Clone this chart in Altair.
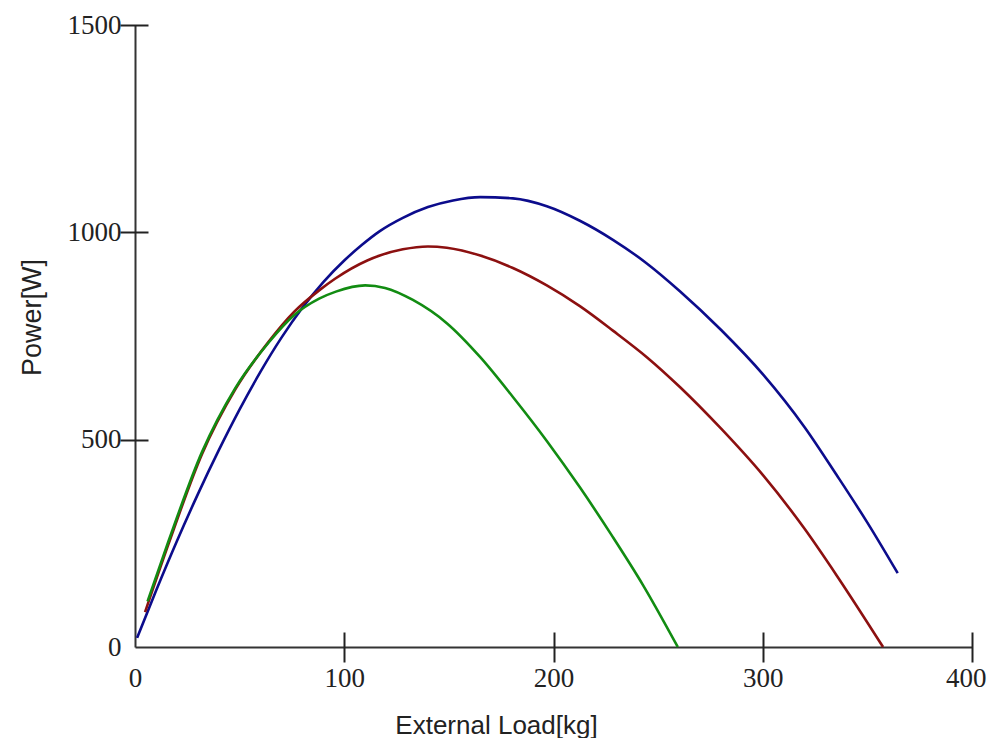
import altair as alt
import pandas as pd

# Series (External Load [kg] -> Power [W])
blue_x = [1, 10, 20, 30, 40, 50, 60, 70, 80, 90, 100, 108.5, 117, 128, 140, 152, 165, 180.6, 196.8, 212.6, 228.4, 244.6, 260.4, 280, 300, 320, 335.4, 350, 364.5]
blue_y = [22, 135, 255, 368, 474, 573, 664, 746, 818, 880, 932, 970, 1003, 1035, 1061, 1077, 1085, 1082, 1063, 1028, 982, 925, 858, 765, 658, 530, 414, 300, 178]

red_x = [4.8, 16, 32, 48, 64, 76, 88, 95.6, 111, 117, 128, 140, 149, 165, 180.6, 196.8, 212.6, 228.4, 244.6, 260.4, 280, 300, 320, 335.4, 357.5]
red_y = [84, 248, 465, 622, 737, 808, 860, 888, 932, 944, 959, 966, 963, 944, 914, 872, 822, 763, 699, 627, 527, 415, 285, 172, 0]

green_x = [6, 16, 32, 48, 64, 76, 88, 96, 110, 119.5, 132.8, 149, 165, 180.6, 196.8, 212.6, 228, 242.7, 259.4]
green_y = [110, 255, 470, 625, 735, 800, 840, 857, 872, 866, 837, 781, 699, 603, 497, 385, 268, 150, 0]

series_names = ["blue", "red", "green"]
series_colors = ["#0c0c8c", "#8c1010", "#128c12"]

x_ticks = [0, 100, 200, 300, 400]
y_ticks = [0, 500, 1000, 1500]

rows = []
for name, xs, ys in [("blue", blue_x, blue_y), ("red", red_x, red_y), ("green", green_x, green_y)]:
    for i, (a, b) in enumerate(zip(xs, ys)):
        rows.append({"series": name, "load": a, "power": b, "order": i})
df = pd.DataFrame(rows)

W, H = 837, 622

xscale = alt.Scale(domain=[0, 400], nice=False, zero=False)
yscale = alt.Scale(domain=[0, 1500], nice=False, zero=False)
cscale = alt.Scale(domain=series_names, range=series_colors)

label_font = "Liberation Serif"
title_font = "Liberation Sans"

last_x = "datum.value == 400"

lines = alt.Chart(df).mark_line(strokeWidth=2.6, interpolate="monotone").encode(
    x=alt.X("load:Q", scale=xscale,
            axis=alt.Axis(orient="bottom", values=x_ticks, format="d", ticks=False, grid=False,
                          domain=True, domainColor="#333333", domainWidth=2,
                          labelFont=label_font, labelFontSize=27, labelColor="#222222",
                          labelPadding=18, labelFlush=False, labelOverlap=False,
                          labelAlign={"condition": {"test": last_x, "value": "right"}, "value": "center"},
                          labelOffset={"condition": {"test": last_x, "value": 14}, "value": 0},
                          title="External Load[kg]", titleFont=title_font, titleFontSize=26,
                          titleFontWeight="normal", titleColor="#222222",
                          titleX=361, titleY=86, titleBaseline="alphabetic", titleAlign="center")),
    y=alt.Y("power:Q", scale=yscale,
            axis=alt.Axis(orient="left", values=y_ticks, format="d", ticks=False, grid=False,
                          domain=True, domainColor="#333333", domainWidth=2,
                          labelFont=label_font, labelFontSize=27, labelColor="#222222",
                          labelPadding=14, labelFlush=False, labelOverlap=False,
                          title="Power[W]", titleFont=title_font, titleFontSize=27,
                          titleFontWeight="normal", titleColor="#222222",
                          titleX=-95, titleY=292, titleBaseline="alphabetic", titleAlign="center",
                          titleAngle=270)),
    color=alt.Color("series:N", scale=cscale, legend=None, sort=series_names),
    order=alt.Order("order:Q"),
    detail="series:N",
)

tick_layer = alt.Chart(df).mark_line(opacity=0).encode(
    x=alt.X("load:Q", scale=xscale,
            axis=alt.Axis(orient="bottom", values=[100, 200, 300, 400], ticks=True, tickSize=30,
                          tickWidth=2, tickColor="#222222", offset=-15, domain=False,
                          labels=False, grid=False, title=None)),
    y=alt.Y("power:Q", scale=yscale,
            axis=alt.Axis(orient="left", values=[500, 1000, 1500], ticks=True, tickSize=28,
                          tickWidth=2, tickColor="#222222", offset=-13, domain=False,
                          labels=False, grid=False, title=None)),
    detail="series:N",
)

chart = alt.layer(lines, tick_layer).resolve_axis(x="independent", y="independent").properties(
    width=W, height=H,
    background="white",
    autosize=alt.AutoSizeParams(type="none"),
    padding={"left": 127, "top": 17, "right": 15, "bottom": 91},
).configure_view(stroke=None)

chart.save("out.html", embed_options={"renderer": "svg", "actions": False})
